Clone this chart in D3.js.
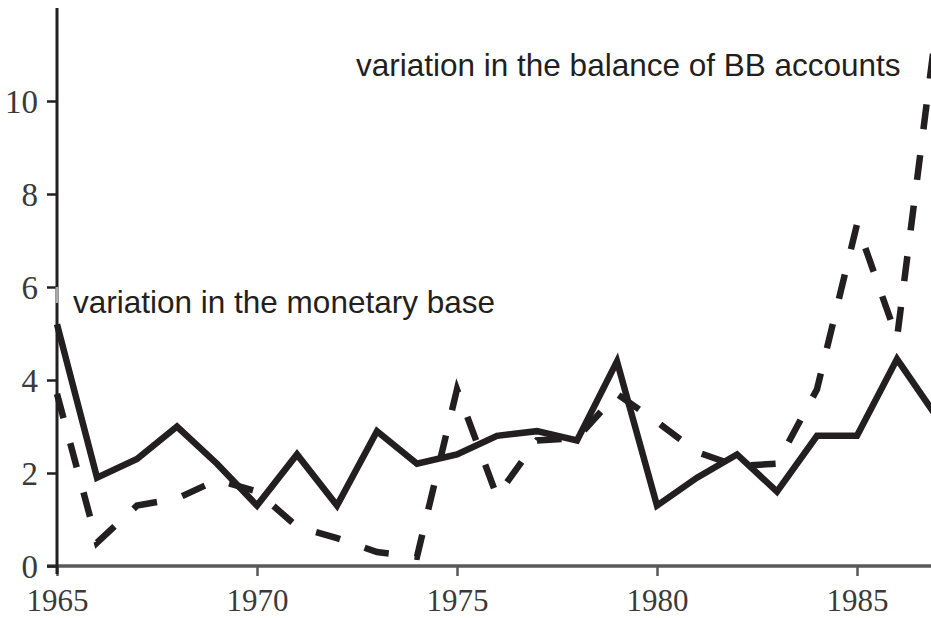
<!DOCTYPE html>
<html>
<head>
<meta charset="utf-8">
<script src="https://cdn.jsdelivr.net/npm/d3@7"></script>
<style>
  body { margin: 0; background: #fff; }
  svg { display: block; }
</style>
</head>
<body>
<svg id="chart" width="931" height="618"></svg>
<script>
// data
const years = [1965, 1966, 1967, 1968, 1969, 1970, 1971, 1972, 1973, 1974, 1975,
               1976, 1977, 1978, 1979, 1980, 1981, 1982, 1983, 1984, 1985, 1986, 1987];
const monetaryBase = [5.2, 1.9, 2.3, 3.0, 2.2, 1.3, 2.4, 1.3, 2.9, 2.2, 2.4,
                      2.8, 2.9, 2.7, 4.4, 1.3, 1.9, 2.4, 1.6, 2.8, 2.8, 4.45, 3.2];
const bbAccounts = [3.7, 0.5, 1.3, 1.45, 1.85, 1.6, 0.85, 0.6, 0.3, 0.2, 3.8,
                    1.5, 2.7, 2.75, 3.7, 3.1, 2.45, 2.15, 2.2, 3.8, 7.35, 4.9, 11.7];
const xTicks = [1965, 1970, 1975, 1980, 1985];
const yTicks = [0, 2, 4, 6, 8, 10];
const labelBase = "variation in the monetary base";
const labelBB = "variation in the balance of BB accounts";

const ink = "#231f20";
let chart = d3.select("#chart");

// scales
let x = d3.scaleLinear()
    .domain([1965, 1987])
    .range([57, 937]);

let y = d3.scaleLinear()
    .domain([0, 12])
    .range([566, 8]);

// x axis
let xAxisGroup = chart.append("g")
    .attr("transform", "translate(0,566)")
    .call(d3.axisBottom(x)
        .tickValues(xTicks)
        .tickFormat(d3.format("d"))
        .tickSize(10)
        .tickSizeOuter(0)
        .tickPadding(14));
xAxisGroup.select(".domain")
    .attr("stroke", "#58595b")
    .attr("stroke-width", 3.5)
    .attr("d", "M47,0H937");
xAxisGroup.selectAll(".tick line")
    .attr("stroke", "#58595b")
    .attr("stroke-width", 2.5);
// baseline near y=611 so the glyph box stays inside the picture
xAxisGroup.selectAll(".tick text")
    .attr("fill", "#3a3a3a")
    .attr("y", 45)
    .attr("dy", 0)
    .style("font-family", "'Liberation Serif', 'DejaVu Serif', serif")
    .style("font-size", "31px");

// y axis
let yAxisGroup = chart.append("g")
    .attr("transform", "translate(57,0)")
    .call(d3.axisLeft(y)
        .tickValues(yTicks)
        .tickSize(10)
        .tickSizeOuter(0)
        .tickPadding(9));
yAxisGroup.select(".domain")
    .attr("stroke", ink)
    .attr("stroke-width", 3)
    .attr("d", "M0,574V8");
yAxisGroup.selectAll(".tick line")
    .attr("stroke", ink)
    .attr("stroke-width", 2.5);
yAxisGroup.selectAll(".tick text")
    .attr("fill", "#3a3a3a")
    .attr("dy", "0.34em")
    .style("font-family", "'Liberation Serif', 'DejaVu Serif', serif")
    .style("font-size", "33px");

// small grey piece on the axis under the lower label
chart.append("line")
    .attr("x1", 57).attr("x2", 57)
    .attr("y1", y(6)).attr("y2", y(6) + 16)
    .attr("stroke", "#a7a9ac")
    .attr("stroke-width", 3);

let line = d3.line()
    .x((d, i) => x(years[i]))
    .y(d => y(d));

// dashed - BB accounts
chart.append("path")
    .datum(bbAccounts)
    .attr("fill", "none")
    .attr("stroke", ink)
    .attr("stroke-width", 6.5)
    .attr("stroke-dasharray", "25,26")
    .attr("stroke-linejoin", "miter")
    .attr("d", line);

// solid - monetary base
chart.append("path")
    .datum(monetaryBase)
    .attr("fill", "none")
    .attr("stroke", ink)
    .attr("stroke-width", 6.5)
    .attr("stroke-linejoin", "miter")
    .attr("d", line);

// labels
chart.append("text")
    .text(labelBB)
    .attr("x", 356)
    .attr("y", 76)
    .attr("fill", ink)
    .style("font-family", "'Liberation Sans', Arial, sans-serif")
    .style("font-size", "31.5px");

chart.append("text")
    .text(labelBase)
    .attr("x", 73)
    .attr("y", 313)
    .attr("fill", ink)
    .style("font-family", "'Liberation Sans', Arial, sans-serif")
    .style("font-size", "31.5px");
</script>
</body>
</html>
